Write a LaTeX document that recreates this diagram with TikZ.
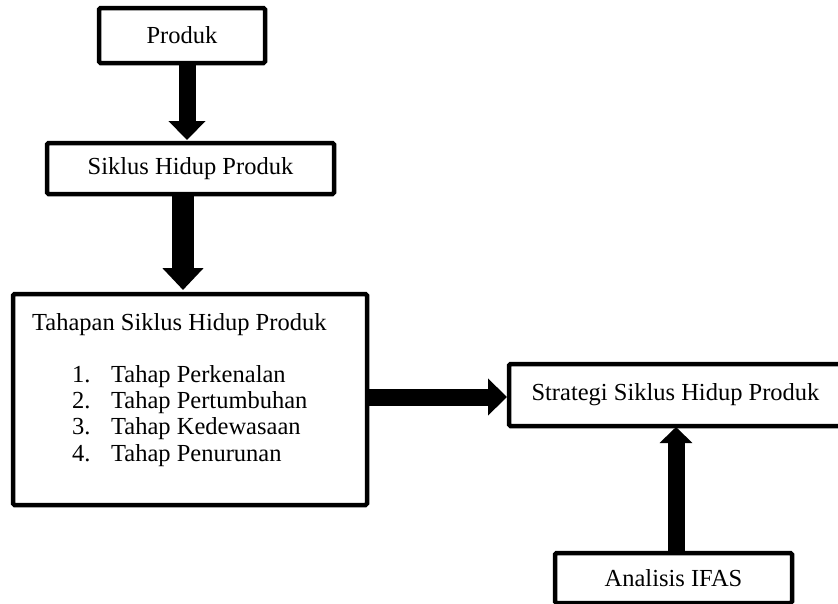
\documentclass[tikz,border=0pt]{standalone}
\usepackage{fontspec}
\setmainfont{Liberation Serif}
\usetikzlibrary{arrows.meta,positioning}

\begin{document}
\begin{tikzpicture}[x=1pt,y=-1pt,font=\fontsize{24.5}{26.5}\selectfont]
    \tikzstyle{kotak}=[draw=black,line width=4.5pt,rounded corners=1.5pt,inner sep=0pt,outer sep=0pt]
    \tikzstyle{panah}=[line width=17pt,-{Triangle[width=36pt,length=19pt]}]
    \tikzstyle{teks}=[inner sep=0pt,anchor=base west]

    \useasboundingbox (0,0) rectangle (838,603);

    \node[kotak,minimum width=166pt,minimum height=55pt] (produk) at (182,35.5) {Produk};
    \node[kotak,minimum width=287pt,minimum height=51pt] (siklus) at (190.5,168.5) {Siklus Hidup Produk};
    \node[kotak,minimum width=354pt,minimum height=211pt] (tahap) at (190,399.5) {};
    \node[kotak,minimum width=333pt,minimum height=62pt] (strategi) at (675.5,395) {Strategi Siklus Hidup Produk};
    \node[kotak,minimum width=237pt,minimum height=50pt] (ifas) at (673.5,578) {Analisis IFAS};

    \node[teks] (judul) at (32,330) {Tahapan Siklus Hidup Produk};
    \foreach \i/\nama in {1/Perkenalan,2/Pertumbuhan,3/Kedewasaan,4/Penurunan}
        \node[teks] (item-\i) at (72,355.6+26.4*\i) {\makebox[39pt][l]{\i.}Tahap \nama};

    \draw[panah] ([xshift=5pt]produk.south) -- ([xshift=5pt,yshift=3pt]produk.south |- siklus.north);
    \draw[panah,line width=22pt,-{Triangle[width=40pt,length=22pt]}] ([xshift=-7.5pt]siklus.south) -- ([xshift=-7.5pt,yshift=4pt]siklus.south |- tahap.north);
    \draw[panah] ([yshift=-2pt]strategi.west -| tahap.east) -- ([yshift=-2pt,xshift=-2pt]strategi.west);
    \draw[panah,-{Triangle[width=32pt,length=16pt]}] ([xshift=2.5pt]ifas.north) -- ([xshift=2.5pt,yshift=-1pt]ifas.north |- strategi.south);
\end{tikzpicture}
\end{document}
